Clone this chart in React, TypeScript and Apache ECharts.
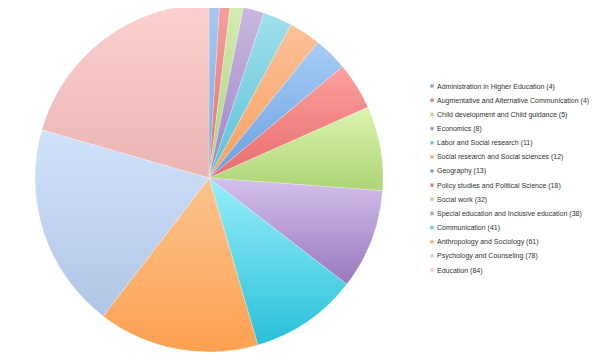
import React, { useEffect, useRef } from "react";
import * as echarts from "echarts";

const categories = [
  "Administration in Higher Education",
  "Augmentative and Alternative Communication",
  "Child development and Child guidance",
  "Economics",
  "Labor and Social research",
  "Social research and Social sciences",
  "Geography",
  "Policy studies and Political Science",
  "Social work",
  "Special education and Inclusive education",
  "Communication",
  "Anthropology and Sociology",
  "Psychology and Counseling",
  "Education",
];
const values = [4, 4, 5, 8, 11, 12, 13, 18, 32, 38, 41, 61, 78, 84];
const topColors = [
  "#a8c8f0", "#f4a0a0", "#d4ecb0", "#c8b8e0", "#a0e0ec", "#fcc098", "#a8ccf4",
  "#fca0a0", "#dcf4b0", "#d4c0ec", "#98eefa", "#fcc490", "#d0e2fa", "#fcd0d0",
];
const bottomColors = [
  "#7aa8e0", "#e07070", "#a8d080", "#9c84c4", "#58c0d8", "#f8a060", "#68a0e0",
  "#e86c6c", "#acd474", "#9878bc", "#28c0d8", "#fca050", "#b0c6e6", "#eab4b4",
];
const legendColors = [
  "#6c9ee0", "#e46a6a", "#a8d084", "#a08ad0", "#54c4e0", "#f8a068", "#6c9ee0",
  "#e46a6a", "#a8d084", "#a08ad0", "#54c4e0", "#f8a068", "#b8d0f0", "#f8c0c0",
];

export default function App() {
  const ref = useRef<HTMLDivElement>(null);
  useEffect(() => {
    if (!ref.current) return;
    const chart = echarts.init(ref.current, undefined, { renderer: "svg" });
    chart.setOption({
      animation: false,
      legend: {
        orient: "vertical",
        left: 429,
        top: 79,
        padding: 0,
        itemWidth: 4,
        itemHeight: 4,
        itemGap: 0,
        icon: "rect",
        selectedMode: false,
        formatter: (name: string) => {
          const i = categories.indexOf(name);
          return `${name} (${values[i]})`;
        },
        textStyle: {
          fontFamily: "Liberation Sans",
          fontSize: 7,
          color: "#333",
          lineHeight: 14.15,
          padding: [0, 0, 0, -2],
        },
        data: categories.map((name, i) => ({
          name,
          itemStyle: { color: legendColors[i] },
        })),
      },
      series: [
        {
          type: "pie",
          center: [209, 178],
          radius: 174,
          startAngle: 90,
          clockwise: true,
          label: { show: false },
          labelLine: { show: false },
          emphasis: { disabled: true },
          itemStyle: { borderColor: "rgba(255,255,255,0.5)", borderWidth: 0.5 },
          data: categories.map((name, i) => ({
            name,
            value: values[i],
            itemStyle: {
              color: new echarts.graphic.LinearGradient(0, 0, 0, 1, [
                { offset: 0, color: topColors[i] },
                { offset: 1, color: bottomColors[i] },
              ]),
            },
          })),
        },
      ],
    });
    return () => chart.dispose();
  }, []);
  return <div ref={ref} style={{ width: 600, height: 356, marginLeft: -8, marginTop: -8 }} />;
}
